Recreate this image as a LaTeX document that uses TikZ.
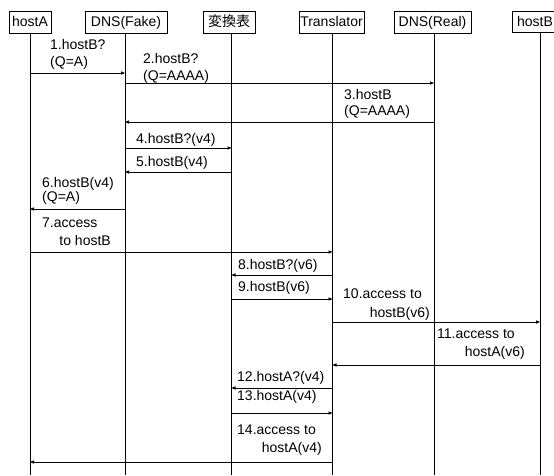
\documentclass[tikz,border=0pt]{standalone}
\usepackage{fontspec}
\setmainfont{Liberation Sans}
\newfontfamily\jpfont{Noto Sans CJK JP}
\usetikzlibrary{arrows.meta}
\begin{document}
\begin{tikzpicture}[x=1pt,y=-1pt,
  every node/.style={font=\fontsize{14}{17}\selectfont},
  obj/.style={draw, line width=0.7pt, inner sep=0pt, minimum height=21.5pt, text height=10.5pt, text depth=2.5pt},
  life/.style={line width=0.7pt},
  msg/.style={line width=0.7pt, -{Triangle[length=4pt,width=3.2pt]}},
  lbl/.style={anchor=base west, inner sep=0pt},
  lblr/.style={anchor=base east, inner sep=0pt}]
\useasboundingbox (0,0) rectangle (554,475);
% lifeline x positions
\coordinate (lA) at (30,0);
\coordinate (lF) at (125,0);
\coordinate (lT) at (231.5,0);
\coordinate (lX) at (332.5,0);
\coordinate (lR) at (434,0);
\coordinate (lB) at (540,0);
% objects
\node[obj, minimum width=42pt] (hA) at (30,22.5) {hostA};
\node[obj, minimum width=82pt] (dF) at (126,22.5) {DNS(Fake)};
\node[obj, minimum width=52pt] (tb) at (229,22.5) {\jpfont 変換表};
\node[obj, minimum width=65pt] (tr) at (331.5,22.5) {Translator};
\node[obj, minimum width=77pt] (dR) at (432.5,22.5) {DNS(Real)};
\node[obj, minimum width=46pt] (hB) at (535,22) {hostB};
% lifelines
\draw[life] (hA.south -| lA) -- (lA |- 0,475);
\draw[life] (dF.south -| lF) -- (lF |- 0,475);
\draw[life] (tb.south -| lT) -- (lT |- 0,475);
\draw[life] (tr.south -| lX) -- (lX |- 0,475);
\draw[life] (dR.south -| lR) -- (lR |- 0,475);
\draw[life] (hB.south -| lB) -- (lB |- 0,475);
% messages
\draw[msg] (lA |- 0,73) -- (lF |- 0,73);
\node[lbl] (t1a) at (50,49) {1.hostB?};
\node[lbl] (t1b) at (50,66.5) {(Q=A)};
\draw[msg] (lF |- 0,83) -- (lR |- 0,83);
\node[lbl] (t2a) at (143,63) {2.hostB?};
\node[lbl] (t2b) at (143,80) {(Q=AAAA)};
\draw[msg] (lR |- 0,122) -- (lF |- 0,122);
\node[lbl] (t3a) at (344,99.5) {3.hostB};
\node[lbl] (t3b) at (344,115.5) {(Q=AAAA)};
\draw[msg] (lF |- 0,148) -- (lT |- 0,148);
\node[lbl] (t4) at (136,143.3) {4.hostB?(v4)};
\draw[msg] (lT |- 0,172) -- (lF |- 0,172);
\node[lbl] (t5) at (136,166.7) {5.hostB(v4)};
\draw[msg] (lF |- 0,209) -- (lA |- 0,209);
\node[lbl] (t6a) at (42,187.3) {6.hostB(v4)};
\node[lbl] (t6b) at (42,201.5) {(Q=A)};
\draw[msg] (lA |- 0,252) -- (lX |- 0,252);
\node[lbl] (t7a) at (42,227.3) {7.access};
\node[lblr] (t7b) at (111,245) {to hostB};
\draw[msg] (lX |- 0,275) -- (lT |- 0,275);
\node[lbl] (t8) at (238,269) {8.hostB?(v6)};
\draw[msg] (lT |- 0,299) -- (lX |- 0,299);
\node[lbl] (t9) at (238,291.7) {9.hostB(v6)};
\draw[msg] (lX |- 0,322) -- (lB |- 0,322);
\node[lbl] (t10a) at (343,298) {10.access to};
\node[lblr] (t10b) at (430,317) {hostB(v6)};
\draw[msg] (lB |- 0,365) -- (lX |- 0,365);
\node[lbl] (t11a) at (437,338) {11.access to};
\node[lblr] (t11b) at (525,356) {hostA(v6)};
\draw[msg] (lX |- 0,388) -- (lT |- 0,388);
\node[lbl] (t12) at (237,381) {12.hostA?(v4)};
\draw[msg] (lT |- 0,413) -- (lX |- 0,413);
\node[lbl] (t13) at (237,400.5) {13.hostA(v4)};
\draw[msg] (lX |- 0,462) -- (lA |- 0,462);
\node[lbl] (t14a) at (237,434) {14.access to};
\node[lblr] (t14b) at (322,452) {hostA(v4)};
\end{tikzpicture}
\end{document}
